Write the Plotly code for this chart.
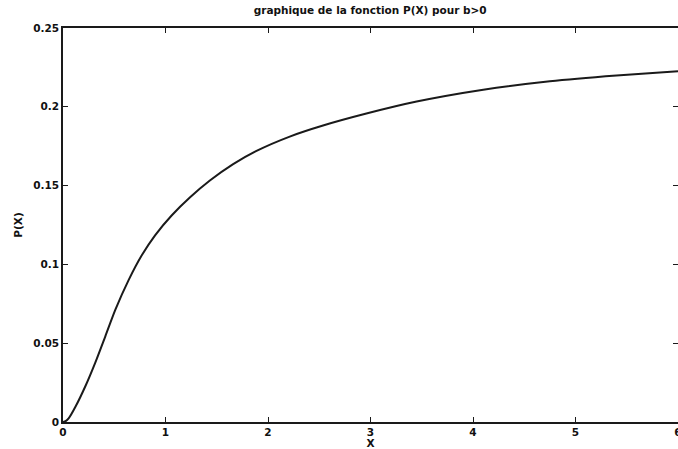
import plotly.graph_objects as go

# Sampled values of P(X) for b > 0
x_values = [0.0, 0.025, 0.055, 0.12, 0.218, 0.315, 0.413, 0.51, 0.64, 0.77,
            0.9, 1.062, 1.24, 1.433, 1.66, 1.888, 2.212, 2.537, 2.96, 3.45,
            4.1, 4.75, 5.4, 6.0]
p_values = [0.0, 0.0005, 0.0023, 0.0095, 0.0227, 0.0377, 0.0544, 0.0711,
            0.0900, 0.1059, 0.1186, 0.1312, 0.1426, 0.1532, 0.1636, 0.1720,
            0.1811, 0.1881, 0.1957, 0.2033, 0.2108, 0.2162, 0.2199, 0.2226]

x_ticks = [0, 1, 2, 3, 4, 5, 6]
y_ticks = [0, 0.05, 0.1, 0.15, 0.2, 0.25]
y_tick_text = ["0", "0.05", "0.1", "0.15", "0.2", "0.25"]

font_family = "DejaVu Sans, Arial, sans-serif"

fig = go.Figure()
fig.add_trace(go.Scatter(
    x=x_values, y=p_values, mode="lines",
    line=dict(color="#1a1a1a", width=2, shape="spline", smoothing=0.6),
    showlegend=False, hoverinfo="skip",
))

axis_common = dict(
    showgrid=False, zeroline=False, showline=True, linecolor="#1a1a1a",
    linewidth=1.5, mirror="ticks", ticks="inside", ticklen=5, tickwidth=1,
    tickcolor="#1a1a1a", ticklabeloverflow="allow", automargin=False,
    tickfont=dict(family=font_family, size=10.5, color="#111", weight="bold"),
)

fig.update_layout(
    width=678, height=449,
    margin=dict(l=63, r=0, t=28, b=27, autoexpand=False),
    paper_bgcolor="white", plot_bgcolor="white",
    title=dict(text="graphique de la fonction P(X) pour b>0",
               x=0.546, xanchor="center", y=0.985, yanchor="top",
               font=dict(family=font_family, size=10.5, color="#111", weight="bold")),
    xaxis=dict(range=[0, 6], tickvals=x_ticks, **axis_common,
               title=dict(text="X", standoff=1,
                          font=dict(family=font_family, size=10.5, color="#111",
                                    weight="bold"))),
    yaxis=dict(range=[0, 0.25], tickvals=y_ticks, ticktext=y_tick_text,
               **axis_common,
               title=dict(text="P(X)", standoff=9,
                          font=dict(family=font_family, size=10.5, color="#111",
                                    weight="bold"))),
)

fig.write_html("out.html")
